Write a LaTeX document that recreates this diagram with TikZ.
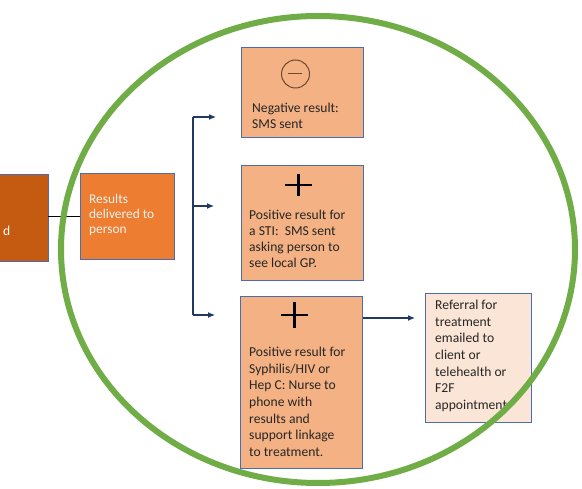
\documentclass[tikz,border=0pt]{standalone}
\usepackage{fontspec}
\setmainfont{Carlito}
\usepackage{xcolor}
\usetikzlibrary{arrows.meta}

\definecolor{darkorange}{HTML}{C55A11}
\definecolor{midorange}{HTML}{ED7D31}
\definecolor{lightorange}{HTML}{F4B183}
\definecolor{paleorange}{HTML}{FBE5D6}
\definecolor{boxline}{HTML}{4A6CB0}
\definecolor{navy}{HTML}{1F3864}
\definecolor{ringgreen}{HTML}{70AD47}
\definecolor{textgray}{HTML}{262626}
\definecolor{symbrown}{HTML}{6B4A33}

\tikzset{
  resultbox/.style={draw=boxline, line width=0.9pt, fill=lightorange,
    anchor=north west, inner sep=0pt, text=textgray},
  link/.style={draw=navy, line width=1.2pt, -{Latex[length=7pt,width=6pt]}},
  boxtext/.style={font=\fontsize{13.6}{16.6}\selectfont, align=left,
    anchor=north west, inner sep=0pt, text=textgray}
}

\begin{document}
\begin{tikzpicture}[x=1pt,y=-1pt]
\useasboundingbox (0,0) rectangle (582,489);
% left box (cut off)
\fill[darkorange] (0,174) rectangle (48,261);
\draw[boxline, line width=0.9pt] (-2,174) -- (48,174) -- (48,261) -- (-2,261);
\node[anchor=west, text=white, font=\fontsize{13.6}{16}\selectfont, inner sep=0pt] (prev) at (3,231) {d};
\coordinate (prevout) at (48,217);

% results delivered
\node[draw=boxline, line width=0.9pt, fill=midorange, minimum width=94pt,
  minimum height=86pt, anchor=north west] (deliver) at (80,173) {};
\node[boxtext, text=white!95!black, font=\fontsize{13.4}{15.2}\selectfont]
  at (89,194) {Results\\delivered to\\person};
\draw[black, line width=1pt] (prevout) -- (prevout -| deliver.west);

% result boxes
\node[resultbox, minimum width=122pt, minimum height=90pt] (neg) at (241,47) {};
\node[resultbox, minimum width=122pt, minimum height=115pt] (sti) at (241,165) {};
\node[resultbox, minimum width=122pt, minimum height=172pt] (hiv) at (240,296) {};
\node[draw=boxline, line width=0.9pt, fill=paleorange, minimum width=106pt,
  minimum height=129pt, anchor=north west] (refer) at (425,293) {};

% symbols
\draw[symbrown, line width=1pt] (295.5,74) circle [radius=14];
\draw[symbrown, line width=1pt] (288,74) -- (302,74);
\draw[black, line width=2.7pt] (285,185) -- (312,185) (298.5,174) -- (298.5,196);
\draw[black, line width=2.7pt] (281,315) -- (308,315) (294.5,302) -- (294.5,328);

% texts
\node[boxtext, font=\fontsize{13.6}{16}\selectfont] at (252,103) {Negative result:\\SMS sent};
\node[boxtext, font=\fontsize{13.6}{15.8}\selectfont] at (249,210) {Positive result for\\a STI:\ \ SMS sent\\asking person to\\see local GP.};
\node[boxtext] at (249,347) {Positive result for\\Syphilis/HIV or\\Hep C: Nurse to\\phone with\\results and\\support linkage\\to treatment.};
\node[boxtext] at (435,300) {Referral for\\treatment\\emailed to\\client or\\telehealth or\\F2F\\appointment};

% bracket
\coordinate (split) at (193,206);
\draw[navy, line width=1.2pt] (193,117) -- (193,315);
\draw[link] (193,117) -- ([xshift=-25pt]neg.west |- 0,117);
\draw[link] (split) -- ([xshift=-27pt]sti.west |- split);
\draw[link] (193,315) -- ([xshift=-25pt]hiv.west |- 0,315);
\draw[link, shorten >=10pt] (hiv.east |- 0,318) -- (refer.west |- 0,318);

% green ring
\draw[ringgreen, line width=6pt] (318,249.5) ellipse [x radius=257, y radius=233.5];
\end{tikzpicture}
\end{document}
